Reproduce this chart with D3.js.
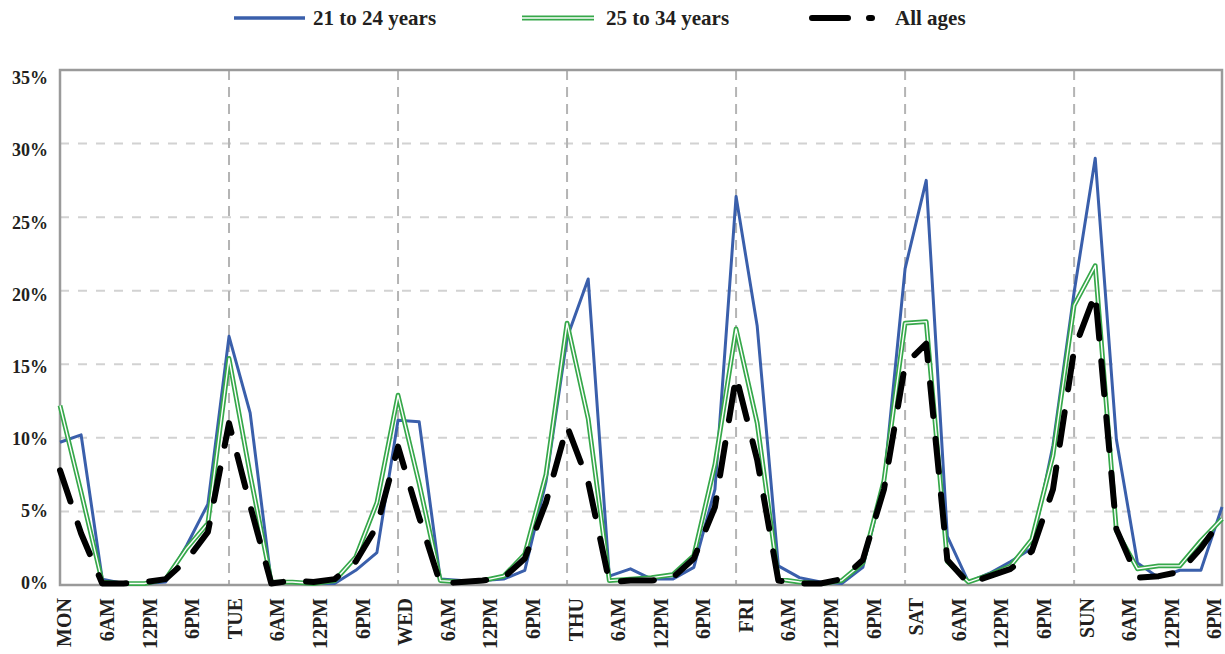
<!DOCTYPE html>
<html>
<head>
<meta charset="utf-8">
<script src="https://cdn.jsdelivr.net/npm/d3@7/dist/d3.min.js"></script>
<style>
  html, body { margin: 0; padding: 0; background: #fff; }
  svg text { font-family: "Liberation Serif", "Times New Roman", serif; font-weight: bold; fill: #231f20; }
</style>
</head>
<body>
<svg id="chart"></svg>
<script>
// tick labels along the bottom (every 6 hours)
var xLabels = ["MON","6AM","12PM","6PM","TUE","6AM","12PM","6PM","WED","6AM","12PM","6PM",
               "THU","6AM","12PM","6PM","FRI","6AM","12PM","6PM","SAT","6AM","12PM","6PM",
               "SUN","6AM","12PM","6PM"];
var yTicks = [0, 5, 10, 15, 20, 25, 30, 35];
var dayStarts = [8, 16, 24, 32, 40, 48];   // TUE..SUN, in 3-hour steps

// share of trips per 3-hour slot (%), Monday 0:00 .. Sunday 21:00
var age21to24 = [9.7, 10.2, 0.4, 0.1, 0.1, 0.2, 2.7, 5.5,
                 16.9, 11.7, 0.2, 0.2, 0.1, 0.1, 1.0, 2.2,
                 11.2, 11.1, 0.4, 0.3, 0.3, 0.4, 1.0, 7.0,
                 16.8, 20.8, 0.6, 1.1, 0.4, 0.4, 1.2, 6.5,
                 26.4, 17.6, 1.3, 0.5, 0.2, 0.1, 1.2, 7.0,
                 21.5, 27.5, 3.3, 0.2, 0.8, 1.6, 2.5, 9.5,
                 19.9, 29.0, 9.9, 1.5, 0.5, 1.0, 1.0, 5.3];
var age25to34 = [12.2, 6.3, 0.2, 0.1, 0.1, 0.4, 2.5, 4.2,
                 15.4, 7.5, 0.2, 0.2, 0.1, 0.3, 1.9, 5.6,
                 12.9, 6.9, 0.3, 0.2, 0.3, 0.6, 2.1, 7.5,
                 17.8, 11.3, 0.3, 0.4, 0.5, 0.7, 2.0, 8.2,
                 17.4, 11.0, 0.4, 0.2, 0.1, 0.3, 1.5, 7.1,
                 17.8, 17.9, 1.6, 0.2, 0.7, 1.3, 3.1, 8.8,
                 19.0, 21.7, 3.7, 1.1, 1.3, 1.3, 3.0, 4.5];
var allAges = [7.8, 3.5, 0.1, 0.1, 0.2, 0.4, 1.7, 3.6,
               11.0, 5.4, 0.1, 0.3, 0.2, 0.4, 1.6, 4.0,
               9.4, 4.6, 0.1, 0.2, 0.3, 0.5, 1.8, 5.6,
               10.8, 7.0, 0.2, 0.3, 0.3, 0.5, 1.8, 5.3,
               14.2, 8.5, 0.3, 0.1, 0.1, 0.4, 1.7, 6.5,
               15.0, 16.4, 1.7, 0.1, 0.6, 1.1, 2.3, 6.5,
               16.0, 19.8, 3.8, 0.5, 0.6, 0.9, 2.5, 4.5];

var width = 1225, height = 654;
var margin = {top: 70, right: 3, bottom: 69, left: 60};

var svg = d3.select("svg#chart")
    .attr("width", width)
    .attr("height", height);

var x = d3.scaleLinear()
    .domain([0, age21to24.length - 1])
    .range([margin.left, width - margin.right]);

var y = d3.scaleLinear()
    .domain([0, 35])
    .range([height - margin.bottom, margin.top]);

// the labels sit a little off the grid in the original
var xLab = d3.scalePoint().domain(d3.range(xLabels.length)).range([65, 1215]);
var yLab = d3.scaleLinear().domain([0, 35]).range([583, 78]);

// horizontal grid
svg.append("g")
  .selectAll("line")
  .data(yTicks.filter(function(d){ return d > 0 && d < 35; }))
  .enter().append("line")
    .attr("x1", x.range()[0]).attr("x2", x.range()[1])
    .attr("y1", function(d){ return y(d); }).attr("y2", function(d){ return y(d); })
    .attr("stroke", "#d2d2d2")
    .attr("stroke-width", 2)
    .attr("stroke-dasharray", "9,9");

// vertical day separators
svg.append("g")
  .selectAll("line")
  .data(dayStarts)
  .enter().append("line")
    .attr("x1", function(d){ return x(d); }).attr("x2", function(d){ return x(d); })
    .attr("y1", y(35)).attr("y2", y(0))
    .attr("stroke", "#b4b4b4")
    .attr("stroke-width", 2)
    .attr("stroke-dasharray", "10,7");

// plot frame
svg.append("rect")
    .attr("x", x.range()[0]).attr("y", y(35))
    .attr("width", x.range()[1] - x.range()[0])
    .attr("height", y(0) - y(35))
    .attr("fill", "none")
    .attr("stroke", "#9a9a9a")
    .attr("stroke-width", 2.5);

// y labels
svg.append("g")
  .selectAll("text")
  .data(yTicks)
  .enter().append("text")
    .attr("x", 48)
    .attr("y", function(d){ return yLab(d); })
    .attr("dy", "0.35em")
    .attr("text-anchor", "end")
    .style("font-size", "18px")
    .text(function(d){ return d + "%"; });

// x labels, rotated
svg.append("g")
  .selectAll("text")
  .data(xLabels)
  .enter().append("text")
    .attr("transform", function(d, i){ return "translate(" + xLab(i) + ",598) rotate(-90)"; })
    .attr("dy", "0.32em")
    .attr("text-anchor", "end")
    .style("font-size", "20px")
    .text(function(d){ return d; });

var line = d3.line()
    .x(function(d, i){ return x(i); })
    .y(function(d){ return y(d); });

var g = svg.append("g");

g.append("path")
    .datum(age21to24)
    .attr("fill", "none")
    .attr("stroke", "#3a5fab")
    .attr("stroke-width", 3)
    .attr("stroke-linejoin", "round")
    .attr("d", line);

// double green line = wide green + thin white core
g.append("path")
    .datum(age25to34)
    .attr("fill", "none")
    .attr("stroke", "#36a84a")
    .attr("stroke-width", 4.8)
    .attr("stroke-linejoin", "round")
    .attr("d", line);
g.append("path")
    .datum(age25to34)
    .attr("fill", "none")
    .attr("stroke", "#ffffff")
    .attr("stroke-width", 1.4)
    .attr("stroke-linejoin", "round")
    .attr("d", line);

g.append("path")
    .datum(allAges)
    .attr("fill", "none")
    .attr("stroke", "#000")
    .attr("stroke-width", 6)
    .attr("stroke-linejoin", "round")
    .attr("stroke-linecap", "round")
    .attr("stroke-dasharray", "33,23")
    .attr("d", line);

// legend
var legend = svg.append("g");
legend.append("line")
    .attr("x1", 234).attr("x2", 305).attr("y1", 18).attr("y2", 18)
    .attr("stroke", "#3a5fab").attr("stroke-width", 3.5);
legend.append("text").attr("x", 313).attr("y", 18).attr("dy", "0.35em")
    .style("font-size", "21px").text("21 to 24 years");

legend.append("line")
    .attr("x1", 522).attr("x2", 594).attr("y1", 18).attr("y2", 18)
    .attr("stroke", "#36a84a").attr("stroke-width", 5);
legend.append("line")
    .attr("x1", 522).attr("x2", 594).attr("y1", 18).attr("y2", 18)
    .attr("stroke", "#fff").attr("stroke-width", 1.4);
legend.append("text").attr("x", 606).attr("y", 18).attr("dy", "0.35em")
    .style("font-size", "21px").text("25 to 34 years");

legend.append("line")
    .attr("x1", 812).attr("x2", 872).attr("y1", 18).attr("y2", 18)
    .attr("stroke", "#000").attr("stroke-width", 6)
    .attr("stroke-linecap", "round")
    .attr("stroke-dasharray", "36,21");
legend.append("text").attr("x", 895).attr("y", 18).attr("dy", "0.35em")
    .style("font-size", "21px").text("All ages");
</script>
</body>
</html>
